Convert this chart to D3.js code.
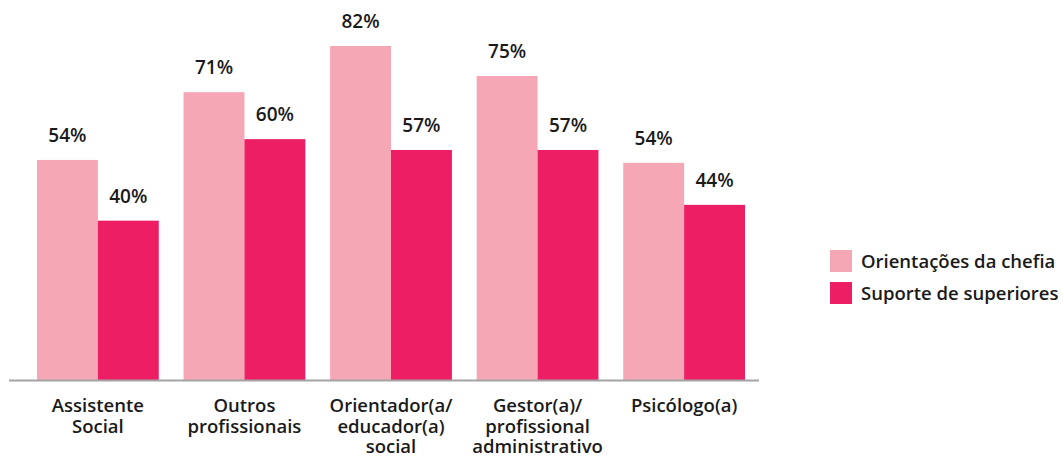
<!DOCTYPE html>
<html>
<head>
<meta charset="utf-8">
<script src="https://cdn.jsdelivr.net/npm/d3@7"></script>
<style>
  body { margin: 0; background: #fff; }
  text { font-family: "Open Sans", sans-serif; fill: #1a1a1a; }
</style>
</head>
<body>
<div id="chart"></div>
<script>
// Categories (each label split in lines) and the two series
const categories = ["Assistente Social", "Outros profissionais", "Orientador(a/ educador(a) social", "Gestor(a)/ profissional administrativo", "Psicólogo(a)"];
const categoryLines = [
  ["Assistente", "Social"],
  ["Outros", "profissionais"],
  ["Orientador(a/", "educador(a)", "social"],
  ["Gestor(a)/", "profissional", "administrativo"],
  ["Psicólogo(a)"]
];
const seriesNames = ["Orientações da chefia", "Suporte de superiores"];
const chefia = [54.6, 70.9, 82, 74.8, 53.9];
const superiores = [40, 59.6, 57, 57, 43.8];
const chefiaLabels = ["54%", "71%", "82%", "75%", "54%"];
const superioresLabels = ["40%", "60%", "57%", "57%", "44%"];
const colors = ["#f6a7b5", "#ed1e64"];

const width = 1063, height = 459;

// Build rows for the grouped bars
const rows = categories.map((c, i) => ({
  category: c,
  lines: categoryLines[i],
  values: [
    {key: seriesNames[0], value: chefia[i], label: chefiaLabels[i]},
    {key: seriesNames[1], value: superiores[i], label: superioresLabels[i]}
  ]
}));

const svg = d3.select("#chart")
  .append("svg")
  .attr("width", width)
  .attr("height", height);

// Scales
const x0 = d3.scaleBand()
  .domain(categories)
  .range([24.6, 757.4])
  .paddingInner(0.169)
  .paddingOuter(0.0845);

const x1 = d3.scaleBand()
  .domain(seriesNames)
  .range([0, x0.bandwidth()]);

const y = d3.scaleLinear()
  .domain([0, 82])
  .range([387, 46]);

const baseY = 380;

const color = d3.scaleOrdinal().domain(seriesNames).range(colors);

// Bars
const groups = svg.append("g")
  .selectAll("g")
  .data(rows)
  .join("g")
    .attr("transform", d => `translate(${x0(d.category)},0)`);

groups.selectAll("rect")
  .data(d => d.values)
  .join("rect")
    .attr("x", d => x1(d.key))
    .attr("y", d => y(d.value))
    .attr("width", x1.bandwidth())
    .attr("height", d => baseY - y(d.value))
    .attr("fill", d => color(d.key));

// Value labels
groups.selectAll("text.value")
  .data(d => d.values)
  .join("text")
    .attr("class", "value")
    .attr("x", d => x1(d.key) + x1.bandwidth() / 2)
    .attr("y", d => y(d.value) - 18)
    .attr("text-anchor", "middle")
    .style("font-size", "19px")
    .style("font-weight", 600)
    .text(d => d.label);

// Baseline
svg.append("line")
  .attr("x1", 9)
  .attr("x2", 759)
  .attr("y1", baseY + 0.5)
  .attr("y2", baseY + 0.5)
  .attr("stroke", "#a3a3a5")
  .attr("stroke-width", 2);

// Category labels, one text per line
const lineRows = rows.flatMap(d => d.lines.map((l, i) => ({category: d.category, line: l, i})));

svg.append("g")
  .selectAll("text")
  .data(lineRows)
  .join("text")
    .attr("x", d => x0(d.category) + x0.bandwidth() / 2)
    .attr("y", d => 412 + d.i * 20.5)
    .attr("text-anchor", "middle")
    .style("font-size", "18.5px")
    .style("font-weight", 600)
    .text(d => d.line);

// Legend
const legend = svg.append("g")
  .attr("transform", "translate(830,250)")
  .selectAll("g")
  .data(seriesNames)
  .join("g")
    .attr("transform", (d, i) => `translate(0,${i * 32})`);

legend.append("rect")
  .attr("width", 22)
  .attr("height", 22)
  .attr("fill", d => color(d));

legend.append("text")
  .attr("x", 31)
  .attr("y", 18)
  .style("font-size", "18.5px")
  .style("font-weight", 600)
  .text(d => d);
</script>
</body>
</html>
